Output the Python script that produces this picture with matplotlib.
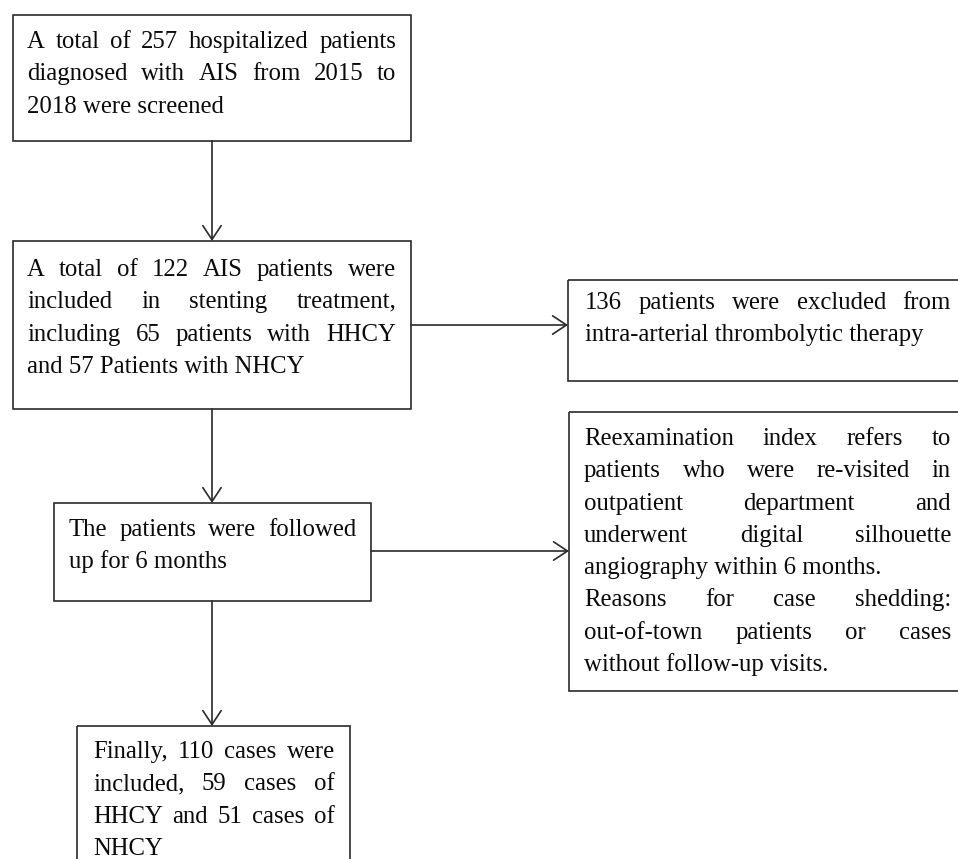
import matplotlib
matplotlib.use("Agg")
import matplotlib.pyplot as plt
from matplotlib.patches import Rectangle, FancyArrowPatch
from matplotlib.font_manager import FontProperties

W, H, DPI = 958, 859, 100

# ---- flowchart text (paragraphs -> lines; last line of each paragraph is left-aligned) ----
box1_text = [["A total of 257 hospitalized patients",
              "diagnosed with AIS from 2015 to",
              "2018 were screened"]]
box2_text = [["A total of 122 AIS patients were",
              "included in stenting treatment,",
              "including 65 patients with HHCY",
              "and 57 Patients with NHCY"]]
box3_text = [["136 patients were excluded from",
              "intra-arterial thrombolytic therapy"]]
box4_text = [["The patients were followed",
              "up for 6 months"]]
box5_text = [["Reexamination index refers to",
              "patients who were re-visited in",
              "outpatient department and",
              "underwent digital silhouette",
              "angiography within 6 months."],
             ["Reasons for case shedding:",
              "out-of-town patients or cases",
              "without follow-up visits."]]
box6_text = [["Finally, 110 cases were",
              "included, 59 cases of",
              "HHCY and 51 cases of",
              "NHCY"]]

# ---- layout (pixels, origin top-left) ----
# box: (left, top, right, bottom), text left, text right, first baseline
boxes = [
    ((13, 15, 411, 141), 27, 396, 48, box1_text),
    ((13, 241, 411, 409), 27, 396, 276, box2_text),
    ((568, 280, 975, 381), 585, 951, 309, box3_text),
    ((54, 503, 371, 601), 69, 356, 536, box4_text),
    ((569, 412, 975, 691), 584, 951, 445, box5_text),
    ((77, 726, 350, 900), 93, 335, 758, box6_text),
]
arrows = [
    ((212, 141), (212, 241)),
    ((411, 325), (568, 325)),
    ((212, 409), (212, 503)),
    ((371, 551), (569, 551)),
    ((212, 601), (212, 726)),
]
LINE_STEP = 32.3
EDGE = "#2a2a2a"
TXT = "#0a0a0a"

fp = FontProperties(family="Liberation Serif", size=17.8)

fig = plt.figure(figsize=(W / DPI, H / DPI), dpi=DPI)
ax = fig.add_axes([0, 0, 1, 1])
ax.set_xlim(0, W)
ax.set_ylim(H, 0)
ax.axis("off")

renderer = fig.canvas.get_renderer()


def wwidth(s):
    w, h, d = renderer.get_text_width_height_descent(s, fp, ismath=False)
    return w


for (l, t, r, b), tx0, tx1, base, paras in boxes:
    ax.add_patch(Rectangle((l, t), r - l, b - t, fill=False,
                           edgecolor=EDGE, linewidth=1.2, clip_on=True))
    y = base
    for para in paras:
        for i, line in enumerate(para):
            words = line.split(" ")
            last = (i == len(para) - 1)
            if last or len(words) == 1:
                ax.text(tx0, y, line, fontproperties=fp, color=TXT,
                        ha="left", va="baseline")
            else:
                widths = [wwidth(wd) for wd in words]
                gap = (tx1 - tx0 - sum(widths)) / (len(words) - 1)
                x = tx0
                for wd, ww in zip(words, widths):
                    ax.text(x, y, wd, fontproperties=fp, color=TXT,
                            ha="left", va="baseline")
                    x += ww + gap
            y += LINE_STEP

for (x0, y0), (x1, y1) in arrows:
    ax.add_patch(FancyArrowPatch((x0, y0), (x1, y1),
                                 arrowstyle="->,head_length=0.5,head_width=0.33",
                                 mutation_scale=20, color=EDGE, linewidth=1.2,
                                 shrinkA=0, shrinkB=0))

fig.savefig("out.png", dpi=DPI, facecolor="white")
